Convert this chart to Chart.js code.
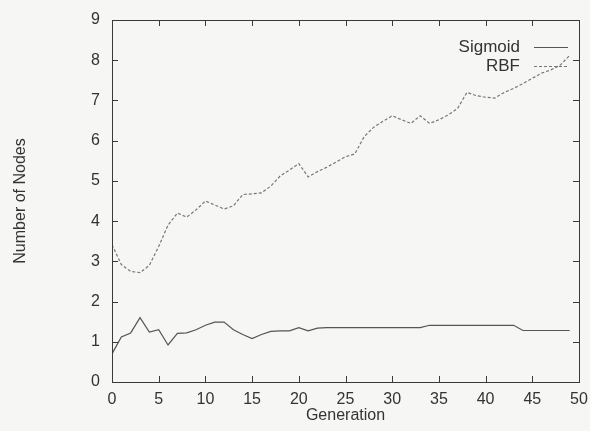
<!DOCTYPE html>
<html>
<head>
<meta charset="utf-8">
<script src="https://cdn.jsdelivr.net/npm/chart.js@4.4.1/dist/chart.umd.min.js"></script>
<style>
  html, body { margin: 0; padding: 0; background: #f6f6f4; }
  #wrap { width: 590px; height: 431px; }
</style>
</head>
<body>
<div id="wrap"><canvas id="chart" width="590" height="431"></canvas></div>
<script>
// generations 0..49
const generations = Array.from({ length: 50 }, (_, i) => i);

const sigmoidNodes = [
    0.70, 1.12, 1.22, 1.60, 1.24, 1.30, 0.92, 1.21, 1.22, 1.30,
    1.41, 1.49, 1.49, 1.30, 1.18, 1.08, 1.18, 1.26, 1.27, 1.27,
    1.35, 1.27, 1.34, 1.35, 1.35, 1.35, 1.35, 1.35, 1.35, 1.35,
    1.35, 1.35, 1.35, 1.35, 1.41, 1.41, 1.41, 1.41, 1.41, 1.41,
    1.41, 1.41, 1.41, 1.41, 1.28, 1.28, 1.28, 1.28, 1.28, 1.28
];

const rbfNodes = [
    3.41, 2.92, 2.75, 2.72, 2.90, 3.37, 3.90, 4.20, 4.10, 4.28,
    4.50, 4.40, 4.30, 4.38, 4.66, 4.68, 4.70, 4.87, 5.12, 5.27,
    5.43, 5.10, 5.23, 5.34, 5.47, 5.60, 5.67, 6.10, 6.33, 6.48,
    6.62, 6.52, 6.43, 6.62, 6.43, 6.52, 6.64, 6.80, 7.20, 7.12,
    7.08, 7.06, 7.20, 7.30, 7.42, 7.55, 7.68, 7.76, 7.88, 8.12
];

const xTicks = [0, 5, 10, 15, 20, 25, 30, 35, 40, 45, 50];
const yTicks = [0, 1, 2, 3, 4, 5, 6, 7, 8, 9];

const axisColor = "#3a3a3a";
const fontFamily = "'Liberation Sans', Arial, sans-serif";

// gnuplot-style inward ticks on all four sides
const inwardTicks = {
    id: "inwardTicks",
    afterDatasetsDraw(chart) {
        const { ctx, chartArea: a, scales } = chart;
        ctx.save();
        ctx.strokeStyle = axisColor;
        ctx.lineWidth = 1;
        xTicks.forEach((v) => {
            const px = Math.round(scales.x.getPixelForValue(v)) + 0.5;
            ctx.beginPath();
            ctx.moveTo(px, a.bottom); ctx.lineTo(px, a.bottom - 6);
            ctx.moveTo(px, a.top); ctx.lineTo(px, a.top + 6);
            ctx.stroke();
        });
        yTicks.forEach((v) => {
            const py = Math.round(scales.y.getPixelForValue(v)) + 0.5;
            ctx.beginPath();
            ctx.moveTo(a.left, py); ctx.lineTo(a.left + 6, py);
            ctx.moveTo(a.right, py); ctx.lineTo(a.right - 6, py);
            ctx.stroke();
        });
        ctx.strokeRect(a.left + 0.5, a.top + 0.5, a.right - a.left, a.bottom - a.top);
        ctx.restore();
    }
};

// key in the top right corner: text right aligned, line sample after it
const keyBox = {
    id: "keyBox",
    afterDraw(chart) {
        const { ctx, chartArea: a } = chart;
        ctx.save();
        ctx.font = "17px " + fontFamily;
        ctx.fillStyle = "#333";
        ctx.textAlign = "right";
        ctx.textBaseline = "middle";
        chart.data.datasets.forEach((ds, i) => {
            const y = a.top + 27 + i * 19;
            ctx.fillText(ds.label, a.right - 59, y);
            ctx.strokeStyle = ds.borderColor;
            ctx.lineWidth = ds.borderWidth;
            ctx.setLineDash(ds.borderDash || []);
            ctx.beginPath();
            ctx.moveTo(a.right - 45, y + 0.5);
            ctx.lineTo(a.right - 11, y + 0.5);
            ctx.stroke();
        });
        ctx.restore();
    }
};

new Chart(document.getElementById("chart"), {
    type: "line",
    data: {
        labels: generations,
        datasets: [
            {
                label: "Sigmoid",
                data: sigmoidNodes,
                borderColor: "#555",
                borderWidth: 1.2,
                pointRadius: 0,
                tension: 0
            },
            {
                label: "RBF",
                data: rbfNodes,
                borderColor: "#777",
                borderWidth: 1.2,
                borderDash: [3, 2],
                pointRadius: 0,
                tension: 0
            }
        ]
    },
    options: {
        responsive: false,
        animation: false,
        layout: { padding: { top: 20, right: 11, left: 0, bottom: 0 } },
        plugins: {
            legend: { display: false },
            tooltip: { enabled: false }
        },
        scales: {
            x: {
                type: "linear",
                min: 0,
                max: 50,
                afterBuildTicks: (s) => { s.ticks = xTicks.map((v) => ({ value: v })); },
                afterFit: (s) => { s.height = 49; s.paddingLeft = 0; s.paddingRight = 0; },
                grid: { display: false, drawTicks: false },
                border: { display: false },
                ticks: { color: "#333", padding: 8, font: { family: fontFamily, size: 16 } },
                title: {
                    display: true,
                    text: "Generation",
                    color: "#333",
                    padding: { top: 0, bottom: 6 },
                    font: { family: fontFamily, size: 16 }
                }
            },
            y: {
                min: 0,
                max: 9,
                afterBuildTicks: (s) => { s.ticks = yTicks.map((v) => ({ value: v })); },
                afterFit: (s) => { s.width = 112; s.paddingTop = 0; s.paddingBottom = 0; },
                grid: { display: false, drawTicks: false },
                border: { display: false },
                ticks: { color: "#333", padding: 12, font: { family: fontFamily, size: 16 } },
                title: {
                    display: true,
                    text: "Number of Nodes",
                    color: "#333",
                    padding: { top: 11, bottom: 0 },
                    font: { family: fontFamily, size: 16 }
                }
            }
        }
    },
    plugins: [inwardTicks, keyBox]
});
</script>
</body>
</html>
